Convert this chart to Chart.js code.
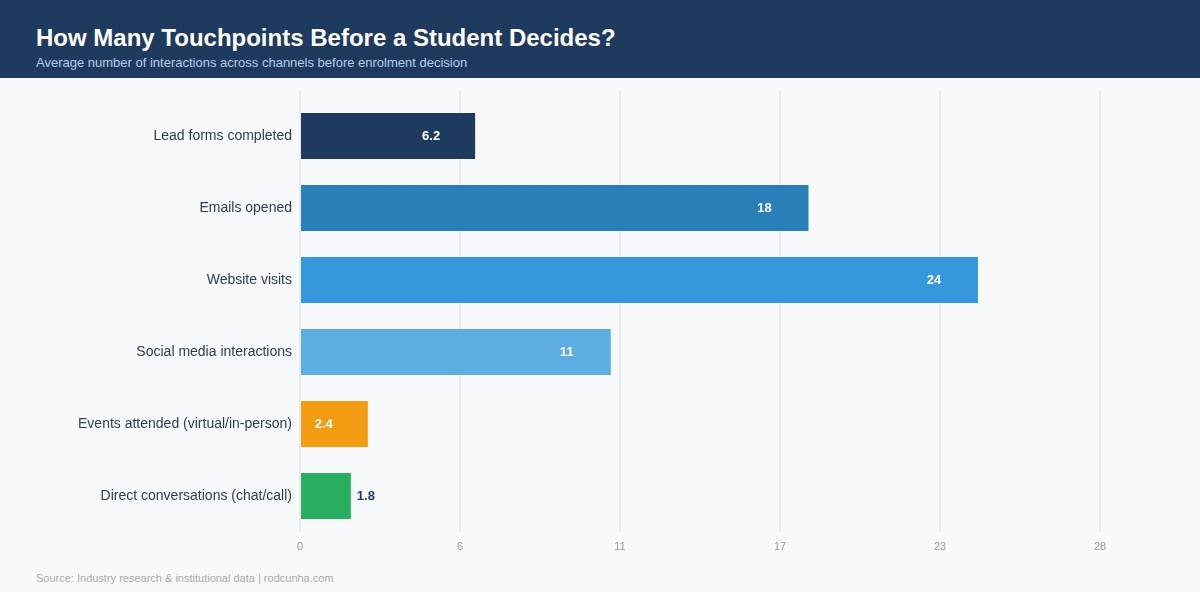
<!DOCTYPE html>
<html>
<head>
<meta charset="utf-8">
<script src="https://cdn.jsdelivr.net/npm/chart.js@4"></script>
<style>
  html, body { margin: 0; padding: 0; }
  body { width: 1200px; height: 592px; background: #f8f9fb; font-family: "Liberation Sans", Arial, Helvetica, sans-serif; position: relative; overflow: hidden; }
  .header { position: absolute; left: 0; top: 0; width: 1200px; height: 78px; background: #1f3a5f; }
  .header h1 { position: absolute; left: 36px; top: 24px; margin: 0; font-size: 24px; font-weight: bold; color: #fff; line-height: 28px; }
  .header p { position: absolute; left: 36px; top: 55px; margin: 0; font-size: 13px; color: #b9cde6; line-height: 16px; }
  .chart-wrap { position: absolute; left: 0; top: 80px; width: 1200px; height: 480px; }
  .source { position: absolute; left: 36px; top: 572px; font-size: 11px; color: #aaaaaa; }
</style>
</head>
<body>
<div class="header">
  <h1>How Many Touchpoints Before a Student Decides?</h1>
  <p>Average number of interactions across channels before enrolment decision</p>
</div>
<div class="chart-wrap"><canvas id="touchChart"></canvas></div>
<div class="source">Source: Industry research &amp; institutional data | rodcunha.com</div>

<script>
// channels and average touchpoints
var channels = [
    'Lead forms completed',
    'Emails opened',
    'Website visits',
    'Social media interactions',
    'Events attended (virtual/in-person)',
    'Direct conversations (chat/call)'
];
var touchpoints = [6.2, 18, 24, 11, 2.4, 1.8];
var barColors = ['#1f3a5f', '#2980b9', '#3498db', '#5dade2', '#f39c12', '#27ae60'];
var axisMax = 28.32;

// value labels: inside the bar end, or just outside when the bar is short
var valueLabels = {
    id: 'valueLabels',
    afterDatasetsDraw: function (chart) {
        var ctx = chart.ctx;
        var meta = chart.getDatasetMeta(0);
        ctx.save();
        ctx.font = 'bold 13px "Liberation Sans", Arial, sans-serif';
        ctx.textBaseline = 'middle';
        meta.data.forEach(function (bar, i) {
            var v = touchpoints[i];
            var text = String(v);
            if (v >= 2) {
                ctx.fillStyle = '#ffffff';
                ctx.textAlign = 'center';
                ctx.fillText(text, bar.x - 44, bar.y);
            } else {
                ctx.fillStyle = '#1f3a5f';
                ctx.textAlign = 'left';
                ctx.fillText(text, bar.x + 6, bar.y);
            }
        });
        ctx.restore();
    }
};

var ctx = document.getElementById('touchChart').getContext('2d');
var touchChart = new Chart(ctx, {
    type: 'bar',
    data: {
        labels: channels,
        datasets: [{
            data: touchpoints,
            backgroundColor: barColors,
            borderWidth: 0,
            barPercentage: 0.8,
            categoryPercentage: 0.8
        }]
    },
    options: {
        indexAxis: 'y',
        responsive: true,
        maintainAspectRatio: false,
        animation: false,
        layout: { padding: { left: 0, right: 100, top: 10, bottom: 0 } },
        plugins: {
            legend: { display: false },
            tooltip: { enabled: false }
        },
        scales: {
            x: {
                position: 'bottom',
                min: 0,
                max: axisMax,
                ticks: {
                    count: 6,
                    color: '#999999',
                    font: { size: 11, family: '"Liberation Sans", Arial, sans-serif' },
                    padding: 8,
                    callback: function (value) { return Math.round(value); }
                },
                grid: { color: '#e9eaed', lineWidth: 2, drawTicks: false },
                border: { display: false },
                afterFit: function (scale) { scale.height = 28; }
            },
            x2: {
                position: 'top',
                min: 0,
                max: axisMax,
                ticks: { display: false, count: 6 },
                grid: { color: '#e9eaed', lineWidth: 2, drawOnChartArea: false, drawTicks: true, tickLength: 10 },
                border: { display: false },
                afterFit: function (scale) { scale.height = 10; }
            },
            y: {
                ticks: {
                    color: '#2c3e50',
                    font: { size: 14, family: '"Liberation Sans", Arial, sans-serif' },
                    padding: 0
                },
                grid: { display: false },
                border: { display: false },
                afterFit: function (scale) { scale.width = 300; }
            }
        }
    },
    plugins: [valueLabels]
});
</script>
</body>
</html>
